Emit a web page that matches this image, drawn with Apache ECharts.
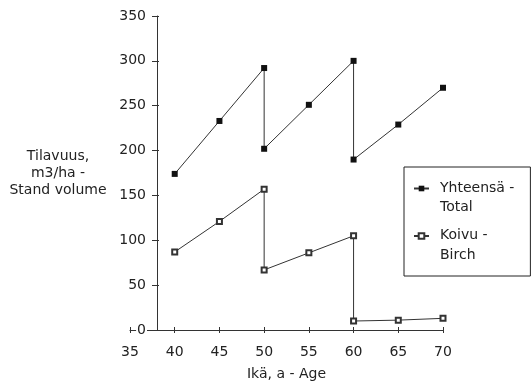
<!DOCTYPE html>
<html>
<head>
<meta charset="utf-8">
<script src="https://cdn.jsdelivr.net/npm/echarts@6/dist/echarts.min.js"></script>
<style>
  html, body { margin: 0; padding: 0; background: #fff; }
  #chart { width: 531px; height: 382px; }
</style>
</head>
<body>
<div id="chart"></div>
<script>
// ages; 50 and 60 appear twice (before / after thinning)
var ages = [40, 45, 50, 50, 55, 60, 60, 65, 70];
var totalVolume = [174, 233, 292, 202, 251, 300, 190, 229, 270];
var birchVolume = [87, 121, 157, 67, 86, 105, 10, 11, 13];

var totalLabel = ['Yhteensä -', 'Total'];
var birchLabel = ['Koivu -', 'Birch'];
var yTitle = ['Tilavuus,', 'm3/ha -', 'Stand volume'];
var xTitle = 'Ikä, a - Age';

var ink = '#222';
var font = 'DejaVu Sans';

function pairs(ys) {
    return ages.map(function (a, i) { return [a, ys[i]]; });
}

var chart = echarts.init(document.getElementById('chart'));

// y axis line sits at age 38, left of that the x axis runs on to 35
var yShift = -27;

chart.setOption({
    animation: false,
    grid: { left: 130, right: 88, top: 16, bottom: 52, outerBoundsMode: 'none', containLabel: false },
    xAxis: [{
        type: 'value', min: 35, max: 70, interval: 5,
        name: xTitle, nameLocation: 'middle', nameGap: 37,
        nameTextStyle: { color: ink, fontFamily: font, fontSize: 14 },
        axisLine: { lineStyle: { color: '#333', width: 1 } },
        axisTick: { length: 3, lineStyle: { color: '#333' } },
        axisLabel: { color: ink, fontFamily: font, fontSize: 14, margin: 15 },
        splitLine: { show: false }
    }, {
        type: 'value', min: 35, max: 70, interval: 5, position: 'bottom',
        axisLine: { show: false },
        axisTick: { inside: true, length: 3, lineStyle: { color: '#333' } },
        axisLabel: { show: false },
        splitLine: { show: false }
    }],
    yAxis: [{
        type: 'value', min: 0, max: 350, interval: 50, offset: yShift,
        name: yTitle.join('\n'), nameLocation: 'middle', nameRotate: 0, nameGap: 99,
        nameTextStyle: { color: ink, fontFamily: font, fontSize: 14, align: 'center',
                         lineHeight: 17, padding: [0, 0, 24, 0] },
        axisLine: { show: true, lineStyle: { color: '#333', width: 1 } },
        axisTick: { show: true, length: 5, lineStyle: { color: '#333' } },
        axisLabel: { color: ink, fontFamily: font, fontSize: 14, margin: 10,
                     backgroundColor: '#fff', padding: [0, 1] },
        splitLine: { show: false }
    }, {
        type: 'value', min: 0, max: 350, interval: 50, offset: yShift, position: 'left',
        axisLine: { show: false },
        axisTick: { show: true, inside: true, length: 2, lineStyle: { color: '#333' } },
        axisLabel: { show: false },
        splitLine: { show: false }
    }],
    legend: {
        orient: 'vertical', left: 404, top: 167,
        itemWidth: 15, itemHeight: 7, itemGap: 14,
        padding: [14, 16, 14, 9],
        borderColor: '#222', borderWidth: 1,
        data: [totalLabel.join(' '), birchLabel.join(' ')],
        formatter: function (name) {
            var parts = name === totalLabel.join(' ') ? totalLabel : birchLabel;
            return '{a|' + parts[0] + '}\n{b|' + parts[1] + '}';
        },
        textStyle: {
            color: ink, fontFamily: font, fontSize: 14,
            padding: [0, 0, 0, 6],
            rich: {
                a: { fontFamily: font, fontSize: 14, color: ink, lineHeight: 38 },
                b: { fontFamily: font, fontSize: 14, color: ink, lineHeight: 1 }
            }
        }
    },
    series: [{
        name: totalLabel.join(' '),
        type: 'line',
        data: pairs(totalVolume),
        symbol: 'rect', symbolSize: 6,
        lineStyle: { color: '#333', width: 1 },
        itemStyle: { color: '#111' }
    }, {
        name: birchLabel.join(' '),
        type: 'line',
        data: pairs(birchVolume),
        symbol: 'emptyRect', symbolSize: 5,
        lineStyle: { color: '#333', width: 1 },
        itemStyle: { color: '#333', borderColor: '#333', borderWidth: 0.8 }
    }]
});
</script>
</body>
</html>
